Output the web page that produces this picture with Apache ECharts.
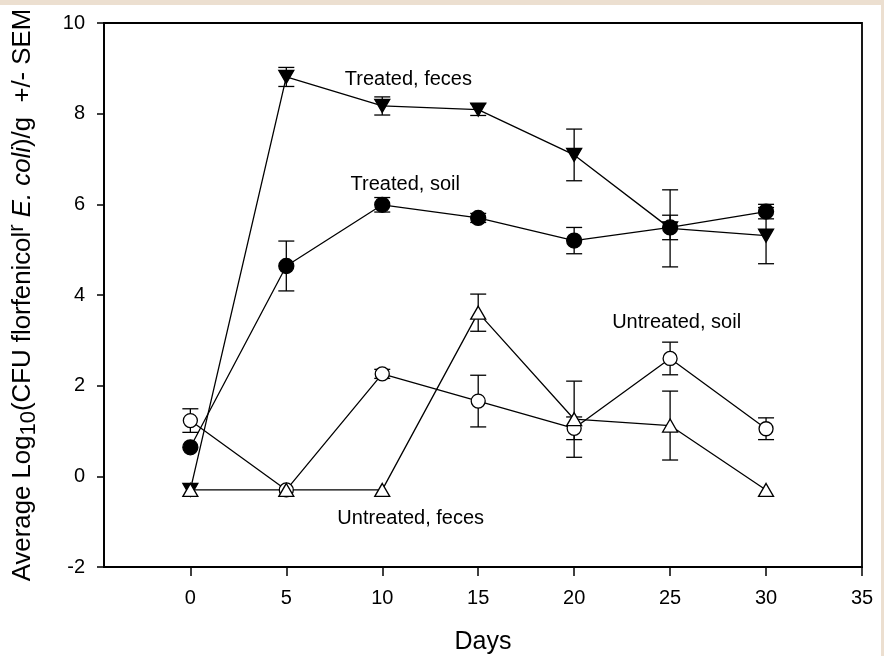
<!DOCTYPE html>
<html>
<head>
<meta charset="utf-8">
<script src="https://cdn.jsdelivr.net/npm/echarts@6/dist/echarts.min.js"></script>
<style>
  html, body { margin: 0; padding: 0; background: #ffffff; }
  #wrap { position: relative; width: 884px; height: 656px; background: #ecdfd0; overflow: hidden; }
  #chart { position: absolute; left: 0; top: 5px; width: 881px; height: 651px; background: #ffffff; }
</style>
</head>
<body>
<div id="wrap"><div id="chart"></div></div>
<script>
// ---- data ----
const days = [0, 5, 10, 15, 20, 25, 30];
const xTicks = [0, 5, 10, 15, 20, 25, 30, 35];

const treatedFeces      = [-0.30, 8.81, 8.17, 8.09, 7.09, 5.47, 5.31];
const treatedFecesSem   = [0,     0.21, 0.20, 0.13, 0.57, 0.85, 0.62];

const treatedSoil       = [0.64, 4.64, 5.99, 5.70, 5.20, 5.49, 5.84];
const treatedSoilSem    = [0,    0.55, 0.16, 0.10, 0.29, 0.27, 0.16];

const untreatedSoil     = [1.23, -0.30, 2.26, 1.66, 1.06, 2.60, 1.05];
const untreatedSoilSem  = [0.26, 0,     0.10, 0.57, 0.25, 0.36, 0.24];

const untreatedFeces    = [-0.30, -0.30, -0.30, 3.61, 1.26, 1.12, -0.30];
const untreatedFecesSem = [0,     0,     0,     0.41, 0.84, 0.76, 0];

const seriesNames = ['Treated, feces', 'Treated, soil', 'Untreated, soil', 'Untreated, feces'];

// annotation anchors (data coordinates: left edge of text, vertical middle)
const annotations = [
  { text: 'Treated, feces',   x: 8.05,  y: 8.75 },
  { text: 'Treated, soil',    x: 8.35,  y: 6.43 },
  { text: 'Untreated, soil',  x: 21.98, y: 3.39 },
  { text: 'Untreated, feces', x: 7.66,  y: -0.94 }
];

// ---- build ----
const FONT = '"Liberation Sans", Arial, sans-serif';
const pairs = (ys) => days.map((d, i) => [d, ys[i]]);
const triples = (ys, es) => days.map((d, i) => [d, ys[i], es[i]]);

function errorBarSeries(ys, es) {
  return {
    type: 'custom',
    z: 1,
    silent: true,
    data: triples(ys, es),
    renderItem: function (params, api) {
      const x = api.value(0), y = api.value(1), e = api.value(2);
      if (!e) return null;
      const top = api.coord([x, y + e]);
      const bot = api.coord([x, y - e]);
      const hw = 8;
      const st = { stroke: '#000', lineWidth: 1.3, fill: null };
      return {
        type: 'group',
        children: [
          { type: 'line', shape: { x1: top[0], y1: top[1], x2: bot[0], y2: bot[1] }, style: st },
          { type: 'line', shape: { x1: top[0] - hw, y1: top[1], x2: top[0] + hw, y2: top[1] }, style: st },
          { type: 'line', shape: { x1: bot[0] - hw, y1: bot[1], x2: bot[0] + hw, y2: bot[1] }, style: st }
        ]
      };
    }
  };
}

function lineSeries(name, ys, symbol, size, filled, rotate) {
  return {
    name: name,
    type: 'line',
    z: 3,
    data: pairs(ys),
    symbol: symbol,
    symbolSize: size,
    symbolRotate: rotate || 0,
    showAllSymbol: true,
    lineStyle: { color: '#000', width: 1.3 },
    itemStyle: { color: filled ? '#000' : '#fff', borderColor: '#000', borderWidth: 1.3 },
    emphasis: { disabled: true },
    animation: false
  };
}

const annotationSeries = {
  type: 'custom',
  z: 4,
  silent: true,
  data: annotations.map(a => [a.x, a.y, a.text]),
  renderItem: function (params, api) {
    const p = api.coord([api.value(0), api.value(1)]);
    return {
      type: 'text',
      x: p[0], y: p[1],
      style: {
        text: annotations[params.dataIndex].text,
        fill: '#000',
        font: '20px ' + FONT,
        align: 'left',
        verticalAlign: 'middle'
      }
    };
  }
};

const yName = '{n|Average Log}{sub|10}{n|(CFU florfenicol}{sup|r}{n| }{i|E. coli}{n|)/g  +/- SEM}';

const option = {
  animation: false,
  backgroundColor: '#ffffff',
  grid: {
    left: 104, top: 18, width: 758, height: 544,
    outerBoundsMode: 'none',
    containLabel: false,
    show: true, borderColor: '#000', borderWidth: 1.8, backgroundColor: 'transparent'
  },
  xAxis: {
    type: 'value',
    min: -4.5, max: 35,
    name: 'Days',
    nameLocation: 'middle',
    nameGap: 63,
    nameTextStyle: { fontFamily: FONT, fontSize: 25, color: '#000' },
    axisLine: { show: true, onZero: false, lineStyle: { color: '#000', width: 1.8 } },
    axisTick: { show: true, inside: false, length: 9, customValues: xTicks, lineStyle: { color: '#000', width: 1.5 } },
    axisLabel: { show: true, customValues: xTicks, margin: 21, fontFamily: FONT, fontSize: 20, color: '#000' },
    splitLine: { show: false }
  },
  yAxis: {
    type: 'value',
    min: -2, max: 10, interval: 2,
    name: yName,
    nameLocation: 'middle',
    nameRotate: 90,
    nameGap: 64,
    nameTextStyle: {
      fontFamily: FONT, color: '#000',
      rich: {
        n:   { fontFamily: FONT, fontSize: 25.8, color: '#000', lineHeight: 34, verticalAlign: 'middle' },
        i:   { fontFamily: FONT, fontSize: 25.8, color: '#000', fontStyle: 'italic', lineHeight: 34, verticalAlign: 'middle' },
        sub: { fontFamily: FONT, fontSize: 22, color: '#000', lineHeight: 20, verticalAlign: 'bottom' },
        sup: { fontFamily: FONT, fontSize: 22, color: '#000', lineHeight: 22, verticalAlign: 'top' }
      }
    },
    axisLine: { show: true, onZero: false, lineStyle: { color: '#000', width: 1.8 } },
    axisTick: { show: true, inside: false, length: 7, lineStyle: { color: '#000', width: 1.5 } },
    axisLabel: { margin: 19, fontFamily: FONT, fontSize: 20, color: '#000' },
    splitLine: { show: false }
  },
  series: [
    errorBarSeries(treatedFeces, treatedFecesSem),
    errorBarSeries(treatedSoil, treatedSoilSem),
    errorBarSeries(untreatedSoil, untreatedSoilSem),
    errorBarSeries(untreatedFeces, untreatedFecesSem),
    lineSeries(seriesNames[0], treatedFeces, 'triangle', [15, 13], true, 180),
    lineSeries(seriesNames[1], treatedSoil, 'circle', 15, true),
    lineSeries(seriesNames[2], untreatedSoil, 'circle', 14, false),
    lineSeries(seriesNames[3], untreatedFeces, 'triangle', [15, 13], false),
    annotationSeries
  ]
};

const chart = echarts.init(document.getElementById('chart'), null, { renderer: 'canvas' });
chart.setOption(option);
</script>
</body>
</html>
